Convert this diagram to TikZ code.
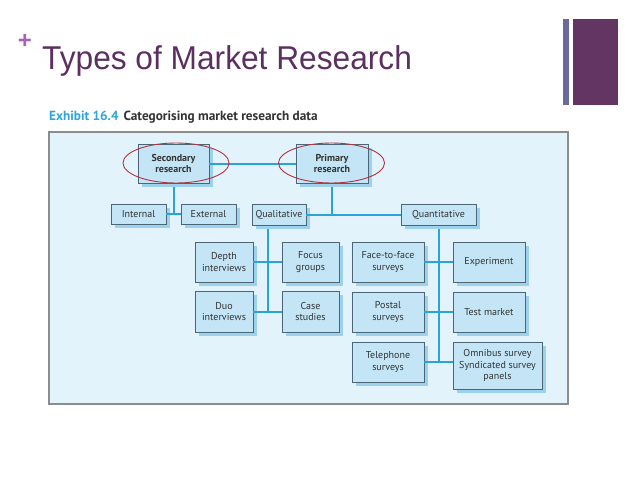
\documentclass[tikz,border=0pt]{standalone}
\usepackage{fontspec}
\setmainfont{Liberation Sans}
\newfontfamily\boxfont{PT Sans}
\usetikzlibrary{shadows}
\definecolor{titlecol}{HTML}{5C2F61}
\definecolor{pluscol}{HTML}{A862B4}
\definecolor{barA}{HTML}{6A6A9C}
\definecolor{barB}{HTML}{633563}
\definecolor{bgblue}{HTML}{E2F3FC}
\definecolor{boxfill}{HTML}{C3E5F6}
\definecolor{boxedge}{HTML}{4C6675}
\definecolor{shadowcol}{HTML}{9CD2EE}
\definecolor{linkcol}{HTML}{2AA3D6}
\definecolor{ringcol}{HTML}{B3323C}
\definecolor{exhib}{HTML}{2DA6DC}
\definecolor{txtdark}{HTML}{333333}
\tikzset{
  catbox/.style={draw=boxedge, line width=0.8pt, fill=boxfill, text=txtdark,
    font=\boxfont\fontsize{10}{11.5}\selectfont, align=center, inner sep=1pt,
    drop shadow={shadow xshift=4pt, shadow yshift=-4pt, fill=shadowcol, opacity=1}},
  topbox/.style={catbox, font=\boxfont\bfseries\fontsize{10}{11.5}\selectfont},
  link/.style={draw=linkcol, line width=2pt},
  ring/.style={draw=ringcol, line width=0.9pt}
}
\begin{document}
\begin{tikzpicture}[x=1pt,y=-1pt]
\useasboundingbox (0,0) rectangle (638,479);
% header
\node[text=pluscol, font=\fontsize{24}{24}\selectfont\bfseries, inner sep=0] (plus) at (25,41) {+};
\node[anchor=base west, text=titlecol, font=\fontsize{33}{33}\selectfont, inner sep=0, xscale=0.96] (title) at (42,69) {Types of Market Research};
\fill[barA] (563,19) rectangle (569,105);
\fill[barB] (573,19) rectangle (618,105);
% caption
\node[anchor=west, inner sep=0, font=\boxfont\bfseries\fontsize{13.3}{14}\selectfont] (cap) at (49,117.5)
  {\textcolor{exhib}{Exhibit 16.4}\hspace{5pt}\textcolor{txtdark}{Categorising market research data}};
% frame
\draw[fill=bgblue, draw=gray!90, line width=1.2pt] (49,132) rectangle (568,404);
% connectors (under the boxes)
\coordinate (qv) at (267.5,0);
\coordinate (secS) at (173.5,183);
\coordinate (primS) at (332,183);
\coordinate (quantS) at (438.5,225);
\draw[link] (secS) -- (secS |- 0,214);
\draw[link] (primS) -- (primS |- 0,214.5);
\draw[link] (qv |- 0,225) -- (qv |- 0,311.5);
\draw[link] (quantS) -- (quantS |- 0,362);
% boxes
\node[topbox, minimum width=71pt, minimum height=39pt] (sec) at (173.5,163.5) {Secondary\\research};
\node[topbox, minimum width=72pt, minimum height=39pt] (prim) at (332,163.5) {Primary\\research};
\node[catbox, minimum width=55pt, minimum height=20pt] (int) at (138.5,214) {Internal};
\node[catbox, minimum width=55pt, minimum height=20pt] (ext) at (208.5,214) {External};
\node[catbox, minimum width=54pt, minimum height=21pt] (qual) at (279,214.5) {Qualitative};
\node[catbox, minimum width=75pt, minimum height=21pt] (quant) at (438.5,214.5) {Quantitative};
\node[catbox, minimum width=58pt, minimum height=40pt] (depth) at (224,262) {Depth\\interviews};
\node[catbox, minimum width=57pt, minimum height=40pt] (focus) at (310.5,262) {Focus\\groups};
\node[catbox, minimum width=58pt, minimum height=41pt] (duo) at (224,311.5) {Duo\\interviews};
\node[catbox, minimum width=57pt, minimum height=41pt] (case) at (310.5,311.5) {Case\\studies};
\node[catbox, minimum width=72pt, minimum height=40pt] (f2f) at (388,262) {Face-to-face\\surveys};
\node[catbox, minimum width=72pt, minimum height=40pt] (exp) at (489,262) {Experiment};
\node[catbox, minimum width=72pt, minimum height=40pt] (post) at (388,312) {Postal\\surveys};
\node[catbox, minimum width=72pt, minimum height=40pt] (test) at (489,312) {Test market};
\node[catbox, minimum width=72pt, minimum height=40pt] (tel) at (388,362) {Telephone\\surveys};
\node[catbox, minimum width=89pt, minimum height=47pt] (omni) at (497.5,365.5) {Omnibus survey\\Syndicated survey\\panels};
% horizontal connectors
\draw[link] (sec.east) -- (prim.west);
\draw[link] (int.east) -- (ext.west);
\draw[link] (qual.east) -- (quant.west);
\draw[link] (depth.east) -- (focus.west);
\draw[link] (duo.east) -- (case.west);
\draw[link] (f2f.east) -- (exp.west);
\draw[link] (post.east) -- (test.west);
\draw[link] (tel.east) -- (tel.east -| omni.west);
% highlight rings
\draw[ring] (176,163) ellipse [x radius=53, y radius=20];
\draw[ring] (331.5,163) ellipse [x radius=53, y radius=20];
\end{tikzpicture}
\end{document}
